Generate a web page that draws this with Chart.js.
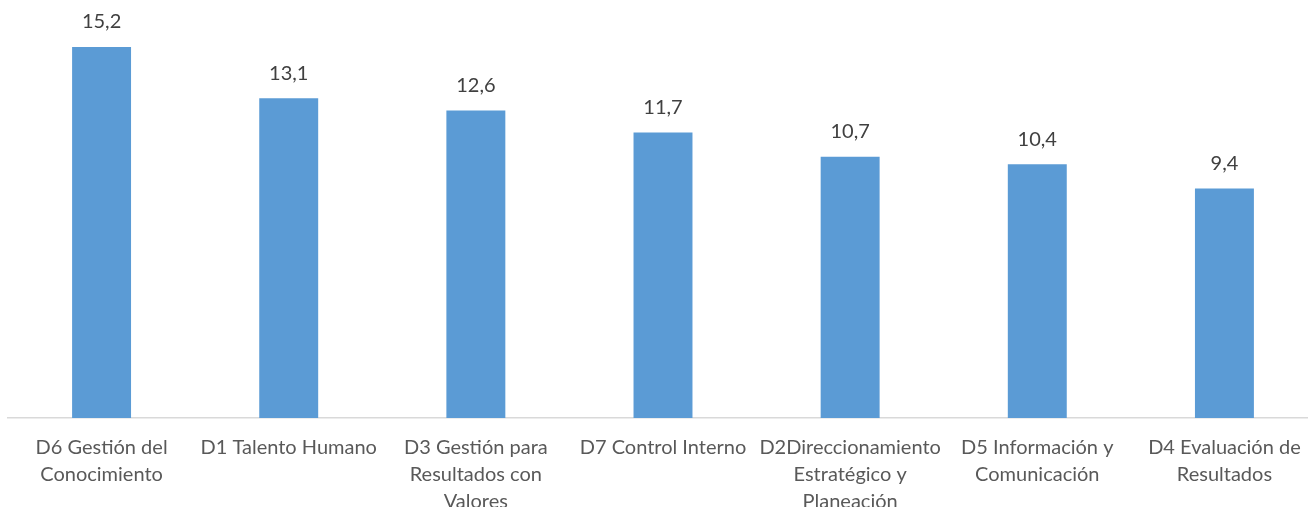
<!DOCTYPE html>
<html>
<head>
<meta charset="utf-8">
<script src="https://cdn.jsdelivr.net/npm/chart.js@4/dist/chart.umd.min.js"></script>
<style>
  html, body { margin: 0; padding: 0; background: #fff; overflow: hidden; }
  #wrap { position: relative; width: 1318px; height: 507px; }
</style>
</head>
<body>
<div id="wrap"><canvas id="chart"></canvas></div>
<script>
// dimension scores, sorted high to low
var CATEGORIES = [
  ['D6 Gestión del', 'Conocimiento'],
  ['D1 Talento Humano'],
  ['D3 Gestión para', 'Resultados con', 'Valores'],
  ['D7 Control Interno'],
  ['D2Direccionamiento', 'Estratégico y', 'Planeación'],
  ['D5 Información y', 'Comunicación'],
  ['D4 Evaluación de', 'Resultados']
];
var SCORES = [15.2, 13.1, 12.6, 11.7, 10.7, 10.4, 9.4];

var FONT = "Lato, 'Liberation Sans', sans-serif";

// value labels above each bar, decimal comma
var valueLabels = {
  id: 'valueLabels',
  afterDatasetsDraw: function(chart) {
    var ctx = chart.ctx;
    var meta = chart.getDatasetMeta(0);
    ctx.save();
    ctx.font = '20px ' + FONT;
    ctx.fillStyle = '#404040';
    ctx.textAlign = 'center';
    ctx.textBaseline = 'middle';
    meta.data.forEach(function(bar, i) {
      var txt = SCORES[i].toFixed(1).replace('.', ',');
      ctx.fillText(txt, bar.x, bar.y - 25);
    });
    ctx.restore();
  }
};

new Chart(document.getElementById('chart'), {
  type: 'bar',
  data: {
    labels: CATEGORIES,
    datasets: [{
      data: SCORES,
      backgroundColor: '#5B9BD5',
      borderWidth: 0,
      barPercentage: 0.315,
      categoryPercentage: 1
    }]
  },
  options: {
    responsive: true,
    maintainAspectRatio: false,
    animation: false,
    layout: { padding: { top: 27.5, left: 8, right: 0, bottom: 0 } },
    plugins: {
      legend: { display: false },
      tooltip: { enabled: false }
    },
    scales: {
      x: {
        afterFit: function(s) { s.height = 89; },
        grid: { display: false, drawTicks: false },
        border: { display: true, color: '#D9D9D9', width: 1.5 },
        ticks: {
          color: '#595959',
          padding: 16,
          maxRotation: 0,
          autoSkip: false,
          font: { family: FONT, size: 20, lineHeight: 1.35 }
        }
      },
      y: {
        display: false,
        min: 0,
        max: 16
      }
    }
  },
  plugins: [valueLabels]
});
</script>
</body>
</html>
